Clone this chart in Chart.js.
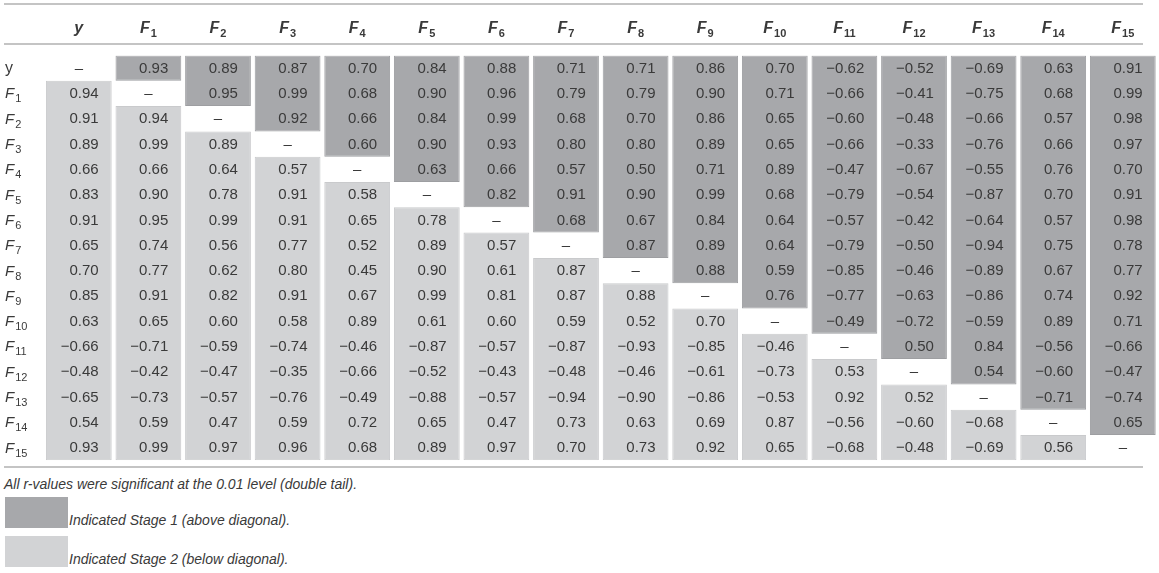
<!DOCTYPE html>
<html lang="en">
<head>
  <meta charset="UTF-8">
  <title>Correlation matrix</title>
  <script src="https://cdn.jsdelivr.net/npm/chart.js"></script>
  <style>
    body {
      margin: 0;
      background: #fff;
      font-family: "Liberation Sans", Arial, sans-serif;
      color: #3a3a3a;
    }
    #wrap {
      position: relative;
      width: 1159px;
      height: 573px;
    }
    #matrixChart {
      position: absolute;
      left: 0;
      top: 0;
    }
    .note {
      position: absolute;
      left: 4px;
      font-style: italic;
      font-size: 14px;
      line-height: 16px;
      white-space: nowrap;
    }
    .swatch {
      position: absolute;
      left: 5px;
      width: 63px;
      height: 31px;
    }
  </style>
</head>
<body>
<div id="wrap">
  <canvas id="matrixChart" width="1159" height="470"></canvas>
  <div class="note" style="top:476px;">All r-values were significant at the 0.01 level (double tail).</div>
  <div class="swatch" style="top:497px; background:#a7a8ab;"></div>
  <div class="note" style="top:512px; left:69px;">Indicated Stage 1 (above diagonal).</div>
  <div class="swatch" style="top:536px; background:#d2d3d5;"></div>
  <div class="note" style="top:551px; left:69px;">Indicated Stage 2 (below diagonal).</div>
</div>

<script>
  // variable names (columns and rows are the same)
  const varNames = ['y', 'F1', 'F2', 'F3', 'F4', 'F5', 'F6', 'F7', 'F8', 'F9', 'F10', 'F11', 'F12', 'F13', 'F14', 'F15'];

  // one array per row, null on the diagonal
  const rowY   = [null, 0.93, 0.89, 0.87, 0.70, 0.84, 0.88, 0.71, 0.71, 0.86, 0.70, -0.62, -0.52, -0.69, 0.63, 0.91];
  const rowF1  = [0.94, null, 0.95, 0.99, 0.68, 0.90, 0.96, 0.79, 0.79, 0.90, 0.71, -0.66, -0.41, -0.75, 0.68, 0.99];
  const rowF2  = [0.91, 0.94, null, 0.92, 0.66, 0.84, 0.99, 0.68, 0.70, 0.86, 0.65, -0.60, -0.48, -0.66, 0.57, 0.98];
  const rowF3  = [0.89, 0.99, 0.89, null, 0.60, 0.90, 0.93, 0.80, 0.80, 0.89, 0.65, -0.66, -0.33, -0.76, 0.66, 0.97];
  const rowF4  = [0.66, 0.66, 0.64, 0.57, null, 0.63, 0.66, 0.57, 0.50, 0.71, 0.89, -0.47, -0.67, -0.55, 0.76, 0.70];
  const rowF5  = [0.83, 0.90, 0.78, 0.91, 0.58, null, 0.82, 0.91, 0.90, 0.99, 0.68, -0.79, -0.54, -0.87, 0.70, 0.91];
  const rowF6  = [0.91, 0.95, 0.99, 0.91, 0.65, 0.78, null, 0.68, 0.67, 0.84, 0.64, -0.57, -0.42, -0.64, 0.57, 0.98];
  const rowF7  = [0.65, 0.74, 0.56, 0.77, 0.52, 0.89, 0.57, null, 0.87, 0.89, 0.64, -0.79, -0.50, -0.94, 0.75, 0.78];
  const rowF8  = [0.70, 0.77, 0.62, 0.80, 0.45, 0.90, 0.61, 0.87, null, 0.88, 0.59, -0.85, -0.46, -0.89, 0.67, 0.77];
  const rowF9  = [0.85, 0.91, 0.82, 0.91, 0.67, 0.99, 0.81, 0.87, 0.88, null, 0.76, -0.77, -0.63, -0.86, 0.74, 0.92];
  const rowF10 = [0.63, 0.65, 0.60, 0.58, 0.89, 0.61, 0.60, 0.59, 0.52, 0.70, null, -0.49, -0.72, -0.59, 0.89, 0.71];
  const rowF11 = [-0.66, -0.71, -0.59, -0.74, -0.46, -0.87, -0.57, -0.87, -0.93, -0.85, -0.46, null, 0.50, 0.84, -0.56, -0.66];
  const rowF12 = [-0.48, -0.42, -0.47, -0.35, -0.66, -0.52, -0.43, -0.48, -0.46, -0.61, -0.73, 0.53, null, 0.54, -0.60, -0.47];
  const rowF13 = [-0.65, -0.73, -0.57, -0.76, -0.49, -0.88, -0.57, -0.94, -0.90, -0.86, -0.53, 0.92, 0.52, null, -0.71, -0.74];
  const rowF14 = [0.54, 0.59, 0.47, 0.59, 0.72, 0.65, 0.47, 0.73, 0.63, 0.69, 0.87, -0.56, -0.60, -0.68, null, 0.65];
  const rowF15 = [0.93, 0.99, 0.97, 0.96, 0.68, 0.89, 0.97, 0.70, 0.73, 0.92, 0.65, -0.68, -0.48, -0.69, 0.56, null];

  const matrix = [rowY, rowF1, rowF2, rowF3, rowF4, rowF5, rowF6, rowF7, rowF8, rowF9, rowF10, rowF11, rowF12, rowF13, rowF14, rowF15];
  const n = varNames.length;

  const DARK = '#a7a8ab';
  const LIGHT = '#d2d3d5';
  const TEXT = '#3a3a3a';
  const RULE = '#c4c4c4';
  const FONT = '"Liberation Sans", Arial, sans-serif';

  // draws "y" or "F" with a subscript index
  function drawName(ctx, name, x, y, opts) {
    const weight = opts.bold ? 'bold ' : '';
    ctx.textBaseline = 'alphabetic';
    ctx.textAlign = 'left';
    ctx.fillStyle = TEXT;
    if (name === 'y') {
      ctx.font = (opts.italicY ? 'italic ' : '') + weight + opts.size + 'px ' + FONT;
      const w = ctx.measureText('y').width;
      ctx.fillText('y', opts.center ? x - w / 2 : x, y);
      return;
    }
    const idx = name.slice(1);
    const mainFont = 'italic ' + weight + opts.size + 'px ' + FONT;
    const subFont = weight + opts.sub + 'px ' + FONT;
    ctx.font = mainFont;
    const wF = ctx.measureText('F').width;
    ctx.font = subFont;
    const wS = ctx.measureText(idx).width;
    const start = opts.center ? x - (wF + 1 + wS) / 2 : x;
    ctx.font = mainFont;
    ctx.fillText('F', start, y);
    ctx.font = subFont;
    ctx.fillText(idx, start + wF + 1, y + 4);
  }

  const tablePlugin = {
    id: 'tableText',
    afterDatasetsDraw(chart) {
      const ctx = chart.ctx;
      const xs = chart.scales.x;
      const ys = chart.scales.y;
      const meta = chart.getDatasetMeta(0);
      const half = meta.data[1].width / 2;
      ctx.save();

      // horizontal rules
      ctx.fillStyle = RULE;
      ctx.fillRect(4, 3, 1139, 2);
      ctx.fillRect(4, 43, 1139, 2);
      ctx.fillRect(4, 466, 1139, 2);

      // column headers
      varNames.forEach((name, j) => {
        drawName(ctx, name, xs.getPixelForValue(j), 33, { bold: true, italicY: true, center: true, size: 16, sub: 11 });
      });

      // row labels
      varNames.forEach((name, i) => {
        const base = ys.getPixelForValue(i + 0.5) + 5;
        drawName(ctx, name, 5, base, { bold: false, italicY: false, center: false, size: name === 'y' ? 16 : 15, sub: 11 });
      });

      // cell values
      ctx.font = '15px ' + FONT;
      ctx.fillStyle = TEXT;
      ctx.textBaseline = 'middle';
      matrix.forEach((row, i) => {
        const cy = ys.getPixelForValue(i + 0.5) + 0.5;
        row.forEach((v, j) => {
          const cx = xs.getPixelForValue(j);
          if (v === null) {
            ctx.textAlign = 'center';
            ctx.fillText('\u2013', cx, cy);
          } else {
            ctx.textAlign = 'right';
            const s = (v < 0 ? '\u2212' : '') + Math.abs(v).toFixed(2);
            ctx.fillText(s, cx + half - 13, cy);
          }
        });
      });
      ctx.restore();
    }
  };

  // stage 1 strip sits above the diagonal, stage 2 strip below it
  const stage1 = varNames.map((_, j) => (j > 0 ? [0, j] : null));
  const stage2 = varNames.map((_, j) => (j < n - 1 ? [j + 1, n] : null));

  new Chart(document.getElementById('matrixChart'), {
    type: 'bar',
    data: {
      labels: varNames,
      datasets: [
        { label: 'Stage 1', data: stage1, backgroundColor: DARK, borderColor: '#9d9ea1', borderWidth: 1, borderSkipped: false, grouped: false },
        { label: 'Stage 2', data: stage2, backgroundColor: LIGHT, borderColor: '#c9cacc', borderWidth: 1, borderSkipped: false, grouped: false }
      ]
    },
    options: {
      responsive: false,
      animation: false,
      devicePixelRatio: 1,
      layout: { padding: { left: 44, right: 1.4, top: 55.5, bottom: 9.7 } },
      datasets: { bar: { barPercentage: 0.945, categoryPercentage: 1 } },
      scales: {
        x: { type: 'category', display: false },
        y: { type: 'linear', min: 0, max: n, reverse: true, display: false }
      },
      plugins: {
        legend: { display: false },
        tooltip: { enabled: false }
      }
    },
    plugins: [tablePlugin]
  });
</script>
</body>
</html>
